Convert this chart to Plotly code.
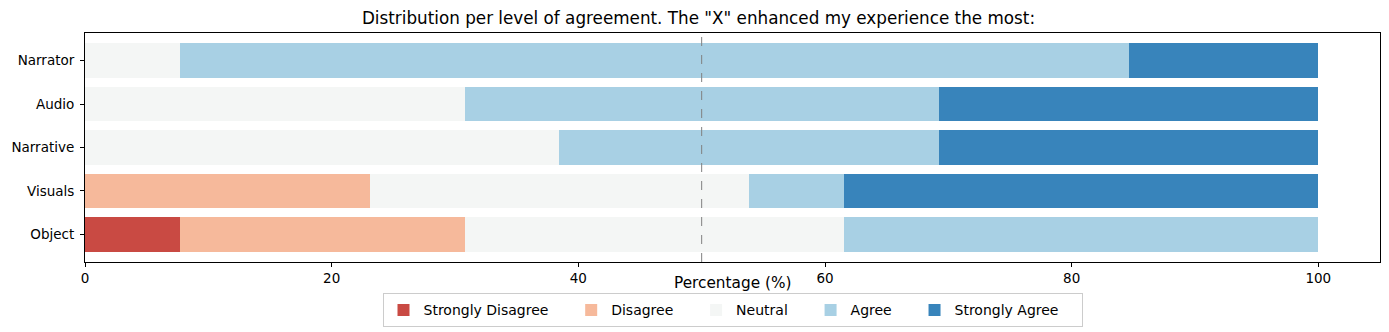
import plotly.graph_objects as go

# 13 respondents, values in percent
categories = ["Object", "Visuals", "Narrative", "Audio", "Narrator"]
levels = ["Strongly Disagree", "Disagree", "Neutral", "Agree", "Strongly Agree"]
strongly_disagree = [7.69, 0.0, 0.0, 0.0, 0.0]
disagree = [23.08, 23.08, 0.0, 0.0, 0.0]
neutral = [30.77, 30.77, 38.46, 30.77, 7.69]
agree = [38.46, 7.69, 30.77, 38.46, 76.92]
strongly_agree = [0.0, 38.46, 30.77, 30.77, 15.38]
x_ticks = [0, 20, 40, 60, 80, 100]

series = [strongly_disagree, disagree, neutral, agree, strongly_agree]
colors = ["#c94a43", "#f6b99b", "#f4f6f5", "#a8d0e4", "#3884bb"]

pad = "\u00a0" * 4  # widen legend entries a bit

# the page body has an 8px margin, so the figure is sized to fit inside the window
W, H = 1381, 324

fig = go.Figure()
for name, vals, col in zip(levels, series, colors):
    fig.add_trace(go.Bar(
        y=categories, x=vals, name=name + pad, orientation="h",
        marker=dict(color=col, line=dict(width=0)),
    ))

fig.add_shape(type="line", x0=50, x1=50, y0=0, y1=1, xref="x", yref="paper",
              line=dict(color="grey", width=1, dash="dash"))

axis_style = dict(showline=True, linecolor="black", linewidth=1, mirror=True,
                  showgrid=False, zeroline=False, ticks="outside", ticklen=4,
                  tickcolor="black", automargin=False,
                  tickfont=dict(size=13.5, color="black"))

fig.update_layout(
    barmode="stack",
    bargap=0.2,
    width=W, height=H,
    margin=dict(l=77, r=9, t=25, b=70, autoexpand=False),
    plot_bgcolor="white", paper_bgcolor="white",
    font=dict(family="DejaVu Sans", color="black"),
    title=dict(text='Distribution per level of agreement. The "X" enhanced my experience the most:',
               x=0.5, xanchor="center", y=1 - 10 / H, yanchor="middle",
               font=dict(size=16.8, color="black")),
    xaxis=dict(range=[0, 105], tickvals=x_ticks, **axis_style),
    yaxis=dict(categoryorder="array", categoryarray=categories,
               range=[-0.64, 4.64], ticklabelstandoff=3, **axis_style),
    legend=dict(orientation="h", x=0.5, xanchor="center", y=-0.137, yanchor="top",
                bordercolor="#cccccc", borderwidth=1, font=dict(size=14),
                traceorder="normal"),
    annotations=[dict(text="Percentage (%)", x=0.5, xref="paper", xanchor="center",
                      y=-0.045, yref="paper", yanchor="top", showarrow=False,
                      font=dict(size=15.3, color="black"))],
)

fig.write_html("out.html")
